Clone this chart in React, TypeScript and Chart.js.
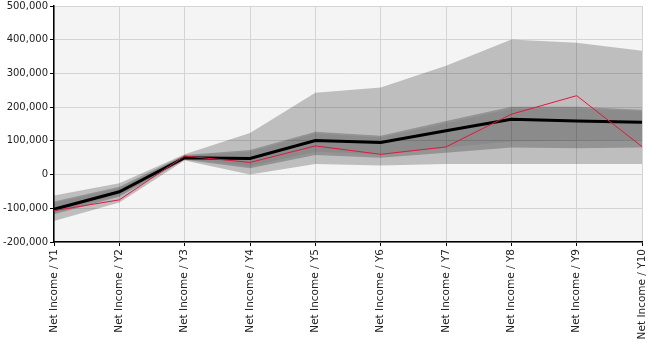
import React, { useEffect, useRef } from "react";
import { Chart, registerables } from "chart.js";

Chart.register(...registerables);

const categories = ["Net Income / Y1", "Net Income / Y2", "Net Income / Y3", "Net Income / Y4", "Net Income / Y5", "Net Income / Y6", "Net Income / Y7", "Net Income / Y8", "Net Income / Y9", "Net Income / Y10"];
const actual = [-107000, -75000, 55000, 36000, 85000, 60000, 82000, 179000, 234000, 83000];
const median = [-103000, -51000, 50000, 48000, 101000, 95000, 130000, 164000, 159000, 155000];
const outerUpper = [-62000, -26000, 60000, 123000, 243000, 258000, 323000, 401000, 391000, 367000];
const outerLower = [-138000, -83000, 42000, 0, 31000, 27000, 31000, 31000, 31000, 31000];
const midUpper = [-80000, -36000, 58000, 73000, 127000, 115000, 159000, 201000, 201000, 192000];
const midLower = [-118000, -66000, 44000, 19000, 58000, 50000, 65000, 80000, 78000, 80000];
const innerUpper = [-84000, -40000, 56000, 68000, 122000, 110000, 152000, 195000, 196000, 188000];
const innerLower = [-112000, -62000, 46000, 25000, 68000, 60000, 80000, 98000, 100000, 103000];
const yTicks = [-200000, -100000, 0, 100000, 200000, 300000, 400000, 500000];

const bgPlugin = {
  id: "plotBg",
  beforeDraw(chart: any) {
    const { ctx, chartArea } = chart;
    ctx.save();
    ctx.fillStyle = "#f4f4f4";
    ctx.fillRect(chartArea.left, chartArea.top, chartArea.right - chartArea.left, chartArea.bottom - chartArea.top);
    ctx.restore();
  },
};

export default function App() {
  const ref = useRef<HTMLCanvasElement | null>(null);
  useEffect(() => {
    if (!ref.current) return;
    const band = (data: number[], fill: any, color: string) => ({
      data,
      borderWidth: 0,
      borderColor: "transparent",
      backgroundColor: color,
      pointRadius: 0,
      fill,
      tension: 0,
    });
    const font = { family: "DejaVu Sans", size: 10 };
    const xFont = { family: "DejaVu Sans", size: 10.5 };
    const chart = new Chart(ref.current, {
      type: "line",
      data: {
        labels: categories,
        datasets: [
          { data: actual, borderColor: "#e3173e", borderWidth: 1, pointRadius: 0, fill: false, tension: 0 },
          { data: median, borderColor: "#000000", borderWidth: 3, pointRadius: 0, fill: false, tension: 0 },
          band(innerUpper, "+1", "rgba(0,0,0,0.06)"),
          band(innerLower, false, "transparent"),
          band(midUpper, "+1", "rgba(0,0,0,0.22)"),
          band(midLower, false, "transparent"),
          band(outerUpper, "+1", "rgba(0,0,0,0.22)"),
          band(outerLower, false, "transparent"),
        ],
      },
      options: {
        animation: false,
        responsive: false,
        maintainAspectRatio: false,
        layout: { padding: { top: 6, right: 7, left: 0, bottom: 0 } },
        plugins: { legend: { display: false }, tooltip: { enabled: false } },
        scales: {
          x: {
            offset: false,
            grid: { color: "#d4d4d4", tickColor: "#000", tickLength: 4, drawTicks: true },
            border: { color: "#000", width: 1.5 },
            ticks: { color: "#222", font: xFont, minRotation: 90, maxRotation: 90, padding: 3, autoSkip: false },
            afterFit(scale: any) {
              scale.height = 104;
              scale.paddingLeft = 0;
              scale.paddingRight = 0;
            },
          },
          y: {
            min: -200000,
            max: 500000,
            afterBuildTicks(scale: any) { scale.ticks = yTicks.map((v) => ({ value: v })); },
            grid: { color: "#d4d4d4", tickColor: "#000", tickLength: 4 },
            border: { color: "#000", width: 1.5 },
            ticks: {
              color: "#222",
              font,
              padding: 2,
              callback: (v: any) => Number(v).toLocaleString("en-US"),
            },
            afterFit(scale: any) {
              scale.width = 54;
              scale.paddingTop = 0;
              scale.paddingBottom = 0;
            },
          },
        },
      },
      plugins: [bgPlugin],
    });
    return () => chart.destroy();
  }, []);
  return (
    <div style={{ position: "fixed", left: 0, top: 0, width: 649, height: 346, background: "#fff" }}>
      <canvas ref={ref} width={649} height={346} style={{ width: 649, height: 346, display: "block" }} />
    </div>
  );
}
